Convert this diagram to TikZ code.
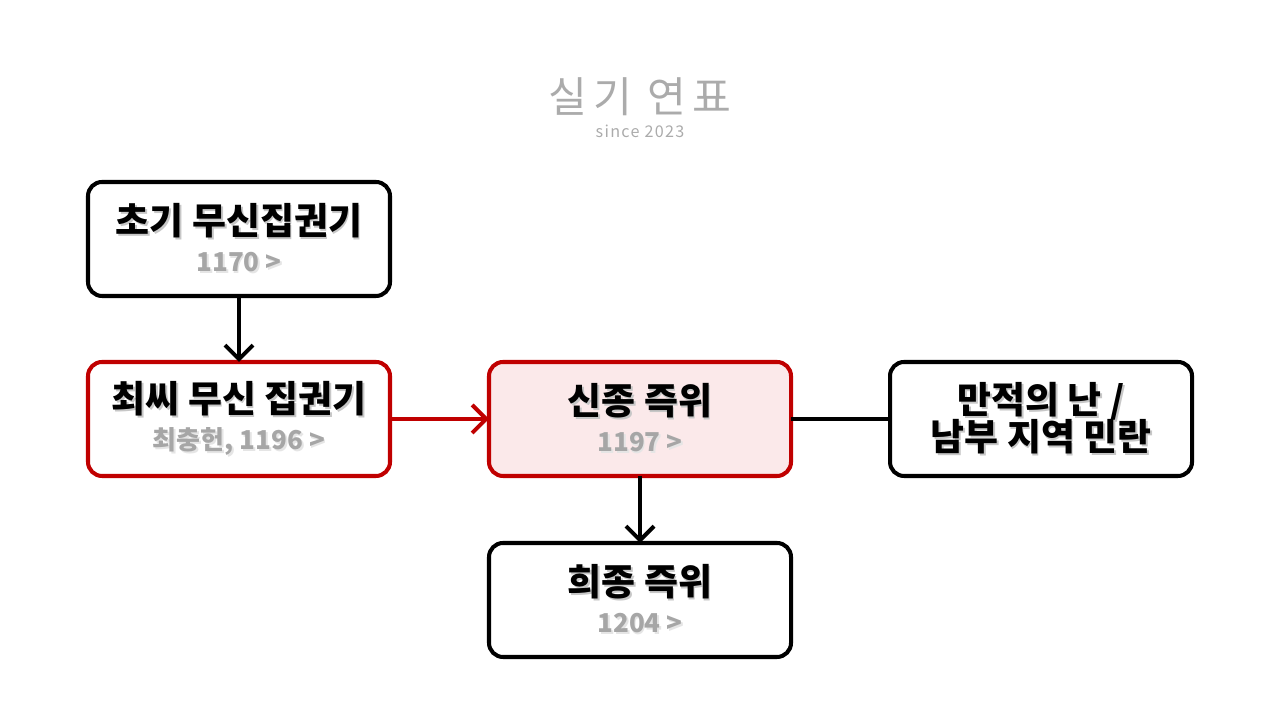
\documentclass[tikz,border=0pt]{standalone}
\usepackage{fontspec}
\setmainfont{Noto Sans CJK KR}
\usetikzlibrary{positioning, arrows.meta}

\definecolor{wred}{HTML}{C00000}
\definecolor{wpink}{HTML}{FBE9EA}
\definecolor{yeargray}{HTML}{A6A6A6}
\definecolor{titlegray}{HTML}{ABABAB}

% text with a soft drop shadow
\newcommand\shd[2][black!22]{\leavevmode\rlap{\hspace{0.5pt}\raisebox{-0.6pt}{\textcolor{#1}{#2}}}#2}
\newcommand\eratext[2]{{\fontsize{10.5}{12}\selectfont\bfseries\shd{#1}}\\[-1.5pt]%
  {\fontsize{7.4}{8}\selectfont\bfseries\color{yeargray}\shd[black!10]{#2}}}

\tikzset{
  era/.style={draw, line width=1.15pt, rounded corners=4pt, fill=white,
    minimum width=3.02cm, minimum height=1.14cm, align=center,
    inner sep=0pt, outer sep=0pt},
  keyera/.style={era, draw=wred},
  link/.style={line width=1.15pt, -{Straight Barb[length=1.4mm, width=2.8mm, line width=1.15pt]}},
}

\begin{document}
\begin{tikzpicture}[
    x = 1cm,
    y = 1cm,
    node distance = 0.66cm and 0.99cm,
    ]
    \useasboundingbox (0,0) rectangle (12.8,7.2);
    % heading
    \node[text=titlegray] (title) at (6.40, 6.23)
      {\fontsize{12}{14}\selectfont\addfontfeature{LetterSpace=14}실기 연표};
    \node[text=titlegray, below=-0.16cm of title] (since)
      {\fontsize{4.6}{5}\selectfont\addfontfeature{LetterSpace=8}since 2023};
    % boxes
    \node[era] (early) at (2.39, 4.81) {\eratext{초기 무신집권기}{1170 >}};
    \node[keyera, below=of early] (choe) {\eratext{최씨 무신 집권기}{최충헌, 1196 >}};
    \node[keyera, fill=wpink, right=of choe] (sinjong) {\eratext{신종 즉위}{1197 >}};
    \node[era, right=of sinjong] (revolt)
      {\fontsize{10.5}{12}\selectfont\bfseries\shd{만적의 난 /}\\[-1.5pt]
       \fontsize{10.5}{12}\selectfont\bfseries\shd{남부 지역 민란}};
    \node[era, below=0.67cm of sinjong] (huijong) {\eratext{희종 즉위}{1204 >}};
    % links
    \draw[link] (early) -- (choe);
    \draw[link, wred] (choe) -- (sinjong);
    \draw[line width=1.15pt] (sinjong) -- (revolt);
    \draw[link] (sinjong) -- (huijong);
\end{tikzpicture}
\end{document}
